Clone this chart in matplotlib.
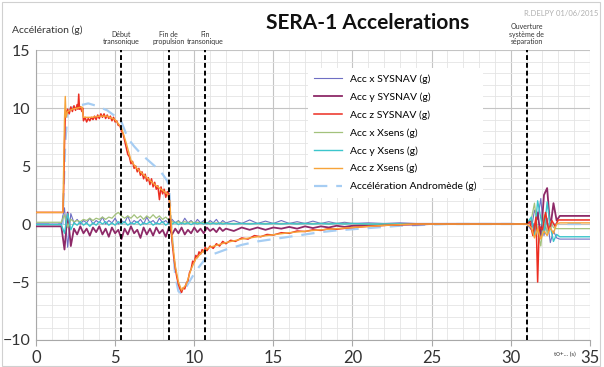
import matplotlib
matplotlib.use("Agg")
import matplotlib.pyplot as plt
from matplotlib.patches import Rectangle
from matplotlib.ticker import MultipleLocator

plt.rcParams['font.family'] = ['Lato', 'DejaVu Sans']

# --- Acc z SYSNAV (main axial channel, noisy)
t_z_sysnav = [0.0, 1.7, 1.75, 1.8, 1.85, 1.9, 2.0, 2.1, 2.2, 2.3, 2.4, 2.5, 2.6, 2.65, 2.7, 2.75,
              2.8, 2.9, 2.95, 3.0, 3.1, 3.2, 3.3, 3.4, 3.5, 3.6, 3.7, 3.8, 3.9, 4.0, 4.1, 4.2,
              4.3, 4.4, 4.5, 4.6, 4.7, 4.8, 4.9, 5.0, 5.1, 5.2, 5.3, 5.4, 5.5, 5.6, 5.7, 5.8,
              5.9, 6.0, 6.1, 6.2, 6.3, 6.4, 6.5, 6.6, 6.7, 6.8, 6.9, 7.0, 7.1, 7.2, 7.3, 7.4,
              7.5, 7.6, 7.7, 7.8, 7.9, 8.0, 8.1, 8.2, 8.3, 8.4, 8.45, 8.5, 8.6, 8.7, 8.8, 8.9,
              9.0, 9.1, 9.2, 9.3, 9.4, 9.5, 9.6, 9.7, 9.8, 9.9, 10.0, 10.1, 10.2, 10.3, 10.4,
              10.5, 10.6, 10.7, 10.8, 11.0, 11.2, 11.4, 11.6, 11.8, 12.0, 12.3, 12.6, 13.0,
              13.4, 13.8, 14.2, 14.6, 15.0, 15.5, 16.0, 16.5, 17.0, 17.5, 18.0, 18.5, 19.0,
              20.0, 21.0, 22.0, 23.0, 24.0, 31.0, 31.2, 31.4, 31.6, 31.7, 31.8, 32.0, 32.2,
              32.4, 32.6, 32.8, 33.0, 35.0]
z_sysnav = [1.0, 1.0, 3.0, 6.8, 9.3, 9.6, 9.9, 9.5, 10.1, 9.7, 10.2, 9.8, 10.3, 9.9, 11.2, 9.9,
            10.1, 9.7, 10.0, 8.9, 9.2, 8.8, 9.1, 8.9, 9.2, 9.0, 9.3, 9.0, 9.4, 9.1, 9.5, 9.2,
            9.5, 9.1, 9.4, 9.1, 9.3, 8.9, 9.2, 8.8, 8.9, 8.5, 8.5, 8.0, 7.8, 7.2, 6.6, 6.0,
            5.8, 5.2, 5.4, 4.8, 5.0, 4.5, 4.8, 4.2, 4.5, 3.9, 4.3, 3.7, 4.0, 3.4, 3.9, 3.2,
            3.6, 3.0, 3.3, 2.1, 3.2, 2.6, 3.0, 2.3, 2.8, 2.6, 1.5, 0.0, -1.5, -2.8, -3.8, -4.6,
            -5.2, -5.6, -5.9, -5.5, -5.6, -5.1, -4.9, -4.2, -3.9, -3.2, -3.3, -2.7, -2.9, -2.4, -2.6,
            -2.2, -2.4, -2.0, -2.3, -1.9, -2.1, -1.7, -1.9, -1.5, -1.7, -1.4, -1.5, -1.2,
            -1.3, -1.0, -1.1, -0.9, -0.95, -0.75, -0.8, -0.6, -0.65, -0.5, -0.55, -0.4, -0.45,
            -0.3, -0.2, -0.12, -0.06, 0.0, 0.0, 0.2, -1.0, 0.6, -5.0, -0.2, -0.5, 1.0,
            -0.6, 0.3, -0.2, 0.35, 0.35]

# --- Acc z Xsens
t_z_xsens = [0.0, 1.7, 1.75, 1.8, 1.85, 1.9, 2.0, 2.3, 2.6, 2.9, 3.0, 3.5, 4.0, 4.5, 5.0, 5.4,
             5.7, 6.0, 6.3, 6.6, 7.0, 7.5, 8.0, 8.3, 8.45, 8.6, 8.8, 9.0, 9.2, 9.5, 9.8, 10.1,
             10.6, 11.0, 12.0, 13.0, 14.0, 16.0, 18.0, 20.0, 22.0, 24.0, 31.0, 31.3, 31.5,
             31.7, 31.9, 32.1, 32.3, 32.5, 32.7, 32.9, 33.1, 35.0]
z_xsens = [1.0, 1.0, 5.0, 9.0, 11.0, 9.2, 9.7, 9.9, 10.0, 10.1, 9.2, 9.2, 9.3, 9.3, 9.0, 8.3,
           7.0, 5.5, 4.9, 4.5, 4.0, 3.4, 2.9, 2.6, 2.0, -1.2, -3.6, -5.0, -5.7, -5.2, -3.9, -3.0,
           -2.3, -2.0, -1.6, -1.3, -1.1, -0.75, -0.5, -0.3, -0.12, 0.0, 0.0, -0.3, -1.2,
           -0.4, -1.3, -0.6, -1.0, -0.3, -0.8, 0.0, 0.1, 0.1]

# --- Accélération Andromède (model)
t_andromede = [0.0, 1.7, 1.75, 1.85, 2.0, 2.2, 2.6, 3.0, 3.3, 3.8, 4.5, 5.0, 5.4, 5.8, 6.2, 6.6,
               7.0, 7.5, 8.0, 8.3, 8.4, 8.6, 8.8, 9.0, 9.2, 9.5, 9.9, 10.3, 10.7, 11.2, 12.0,
               13.0, 14.0, 15.0, 16.0, 17.0, 18.0, 19.0, 20.0, 21.0, 22.0, 23.0, 24.0, 25.0,
               26.0, 35.0]
andromede = [0.0, 0.0, 3.0, 7.0, 9.6, 10.0, 10.2, 10.3, 10.4, 10.2, 9.8, 9.3, 8.8, 7.4, 6.7, 6.1,
             5.6, 5.0, 4.3, 3.7, 3.3, -1.0, -4.5, -5.8, -6.0, -5.4, -4.5, -3.7, -3.0, -2.6, -2.2,
             -1.8, -1.5, -1.3, -1.1, -0.9, -0.7, -0.55, -0.45, -0.35, -0.25, -0.15, -0.1, -0.05,
             0.0, 0.0]

# --- lateral channels share one time base
t_lat = [0.0, 1.6,
         1.8, 2.0, 2.2, 2.4, 2.6, 2.8, 3.0, 3.2, 3.4, 3.6,
         3.8, 4.0, 4.2, 4.4, 4.6, 4.8, 5.0, 5.2, 5.4, 5.6,
         5.8, 6.0, 6.2, 6.4, 6.6, 6.8, 7.0, 7.2, 7.4, 7.6,
         7.8, 8.0, 8.2, 8.4, 8.6, 8.8, 9.0, 9.2, 9.4, 9.6,
         9.8, 10.0, 10.2, 10.4, 10.6, 10.8, 11.0, 11.2, 11.4, 11.6,
         11.8, 12.0,
         12.5, 13.0, 13.5, 14.0, 14.5, 15.0, 15.5, 16.0, 16.5, 17.0, 17.5, 18.0, 18.5, 19.0, 19.5, 20.0,
         21.0, 22.0, 23.0, 24.0, 25.0, 26.0, 27.0, 28.0, 29.0, 30.0,
         31.0, 31.3, 31.5, 31.7, 31.9, 32.1, 32.3, 32.5, 32.7, 32.9, 33.1,
         35.0]

y_sysnav = [-0.2, -0.2,
            -2.2, 1.0, -1.9, -0.4, -0.9, -0.2, -0.8, -0.4, -1.0, -0.3,
            -0.7, -0.2, -0.9, -0.4, -1.1, -0.3, -0.8, -0.5, -1.3, -0.4,
            -0.9, -0.2, -0.8, -0.5, -1.2, -0.3, -0.9, -0.4, -1.0, -0.3,
            -0.8, -0.5, -1.1, -0.3, -0.9, -0.4, -0.8, -0.3, -0.9, -0.5,
            -0.8, -0.3, -0.7, -0.4, -0.8, -0.3, -0.6, -0.4, -0.7, -0.3,
            -0.6, -0.4,
            -0.6, -0.3, -0.5, -0.3, -0.5, -0.3, -0.4, -0.25, -0.4, -0.2, -0.35, -0.2, -0.3, -0.15, -0.25, -0.15,
            -0.1, -0.1, -0.05, -0.05, 0.0, 0.0, 0.0, 0.0, 0.0, 0.0,
            0.0, 0.3, -0.5, 1.0, -1.2, 2.5, 3.1, -0.4, 1.8, 0.3, 0.7,
            0.7]

x_sysnav = [0.0, 0.0,
            1.4, -2.0, 0.9, 0.1, 0.4, 0.0, 0.3, 0.1, 0.5, 0.0,
            0.3, 0.1, 0.6, 0.0, 0.3, 0.1, 0.5, 0.0, 0.3, 0.1,
            0.7, 0.0, 0.3, 0.1, 0.4, 0.0, 0.6, 0.1, 0.3, 0.0,
            0.5, 0.1, 0.3, 0.0, 0.4, 0.1, 0.3, 0.0, 0.5, 0.1,
            0.3, 0.0, 0.4, 0.1, 0.3, 0.0, 0.3, 0.1, 0.4, 0.0,
            0.3, 0.1,
            0.3, 0.05, 0.35, 0.05, 0.25, 0.05, 0.3, 0.05, 0.2, 0.05, 0.25, 0.05, 0.2, 0.05, 0.15, 0.05,
            0.1, 0.05, 0.1, 0.05, 0.05, 0.05, 0.05, 0.05, 0.05, 0.05,
            0.0, -0.5, 1.2, 0.4, 2.2, -1.0, 0.5, -1.6, -0.6, -1.2, -1.3,
            -1.3]

x_xsens = [0.15, 0.15,
           0.8, -0.3, 0.4, 0.2, 0.3, 0.2, 0.4, 0.3, 0.5, 0.3,
           0.5, 0.4, 0.6, 0.4, 0.6, 0.5, 0.8, 1.0, 0.7, 0.5,
           0.7, 0.5, 0.8, 0.5, 0.7, 0.4, 0.7, 0.5, 0.8, 0.5,
           0.7, 0.4, 0.6, 0.3, 0.2, 0.1, 0.2, 0.1, 0.2, 0.1,
           0.2, 0.1, 0.15, 0.1, 0.15, 0.1, 0.1, 0.05, 0.1, 0.05,
           0.1, 0.05,
           0.05, 0.05, 0.05, 0.05, 0.05, 0.05, 0.05, 0.05, 0.05, 0.05, 0.05, 0.05, 0.05, 0.05, 0.05, 0.05,
           0.0, 0.0, 0.0, 0.0, 0.0, 0.0, 0.0, 0.0, 0.0, 0.0,
           0.0, 0.4, 1.8, -0.6, -1.9, 0.8, -0.8, 0.2, -0.3, -0.4, -0.4,
           -0.4]

y_xsens = [-0.05, -0.05,
           -0.8, 0.9, -0.5, 0.1, -0.1, 0.2, -0.1, 0.1, -0.2, 0.1,
           -0.1, 0.2, 0.0, 0.2, -0.1, 0.1, -0.1, 0.2, 0.0, 0.2,
           -0.1, 0.1, 0.0, 0.2, -0.1, 0.1, 0.0, 0.2, -0.1, 0.1,
           0.0, 0.2, -0.1, 0.1, 0.0, 0.15, -0.05, 0.1, 0.0, 0.1,
           -0.05, 0.1, 0.0, 0.1, 0.0, 0.1, 0.0, 0.08, 0.0, 0.08,
           0.0, 0.05,
           0.0, 0.05, 0.0, 0.05, 0.0, 0.05, 0.0, 0.05, 0.0, 0.05, 0.0, 0.05, 0.0, 0.05, 0.0, 0.05,
           0.0, 0.0, 0.0, 0.0, 0.0, 0.0, 0.0, 0.0, 0.0, 0.0,
           0.0, 0.6, -1.0, 2.0, 0.5, -0.8, 1.9, -0.2, -1.5, -0.9, -1.1,
           -1.1]

# event markers
events_t = [5.4, 8.4, 10.7, 31.0]
events_lbl = ["Début\ntransonique", "Fin de\npropulsion", "Fin\ntransonique",
              "Ouverture\nsystème de\nséparation"]

fig = plt.figure(figsize=(6.04, 3.67), dpi=100)
ax = fig.add_axes([0.0596, 0.0736, 0.917, 0.790])

ax.plot(t_lat, x_sysnav, color='#6f6fc4', lw=0.8, label='Acc x SYSNAV (g)', zorder=3)
ax.plot(t_lat, y_sysnav, color='#8e2a68', lw=1.3, label='Acc y SYSNAV (g)', zorder=3)
ax.plot(t_z_sysnav, z_sysnav, color='#ec2e22', lw=1.1, label='Acc z SYSNAV (g)', zorder=4)
ax.plot(t_lat, x_xsens, color='#a3c27c', lw=0.9, label='Acc x Xsens (g)', zorder=3)
ax.plot(t_lat, y_xsens, color='#3cc6cc', lw=1.0, label='Acc y Xsens (g)', zorder=3)
ax.plot(t_z_xsens, z_xsens, color='#f7a43a', lw=1.0, label='Acc z Xsens (g)', zorder=5)
ax.plot(t_andromede, andromede, color='#a6cdf3', lw=1.6, ls=(0, (6, 4)),
        label='Accélération Andromède (g)', zorder=2)

for t, lbl in zip(events_t, events_lbl):
    ax.axvline(t, color='black', lw=1.4, ls=(0, (2.5, 1.5)), zorder=6)
    ax.text(t, 15.4, lbl, ha='center', va='bottom', fontsize=5, color='#333333',
            linespacing=1.1)

ax.set_xlim(0, 35)
ax.set_ylim(-10, 15)
ax.xaxis.set_major_locator(MultipleLocator(5))
ax.xaxis.set_minor_locator(MultipleLocator(1))
ax.yaxis.set_major_locator(MultipleLocator(5))
ax.yaxis.set_minor_locator(MultipleLocator(1))
ax.grid(which='major', color='#c4c4c4', lw=0.8)
ax.grid(which='minor', color='#e4e4e4', lw=0.6)
ax.set_axisbelow(True)
for s in ['top', 'right']:
    ax.spines[s].set_visible(False)
for s in ['left', 'bottom']:
    ax.spines[s].set_color('#a8a8a8')
    ax.spines[s].set_linewidth(0.8)
ax.tick_params(axis='x', which='major', length=4, color='#a8a8a8', labelsize=12, pad=3)
ax.tick_params(axis='y', which='major', length=0, labelsize=11.5, pad=4)
ax.tick_params(which='minor', length=0)
for lab in ax.get_xticklabels() + ax.get_yticklabels():
    lab.set_color('#333333')

leg = ax.legend(loc='upper left', bbox_to_anchor=(303 / 604, 1 - 63 / 367),
                bbox_transform=fig.transFigure, fontsize=7.5, frameon=True,
                facecolor='white', edgecolor='none', framealpha=1, fancybox=False,
                labelspacing=0.8, handlelength=2.6, borderpad=0.6)
leg.set_zorder(10)

fig.text(0.608, 0.938, "SERA-1 Accelerations", ha='center', va='center',
         fontsize=15, fontweight='bold', color='#111111')
fig.text(0.02, 0.918, "Accélération (g)", ha='left', va='center', fontsize=7.5, color='#333333')
fig.text(0.99, 0.962, "R.DELPY 01/06/2015", ha='right', va='center', fontsize=5.5,
         color='#b0b0b0')
fig.text(0.953, 0.035, "t0+... (s)", ha='right', va='center', fontsize=4.5, color='#333333')

fig.patches.append(Rectangle((0.004, 0.004), 0.99, 0.99, transform=fig.transFigure,
                             fill=False, ec='#d0d0d0', lw=0.8))

fig.savefig("out.png", dpi=100)
